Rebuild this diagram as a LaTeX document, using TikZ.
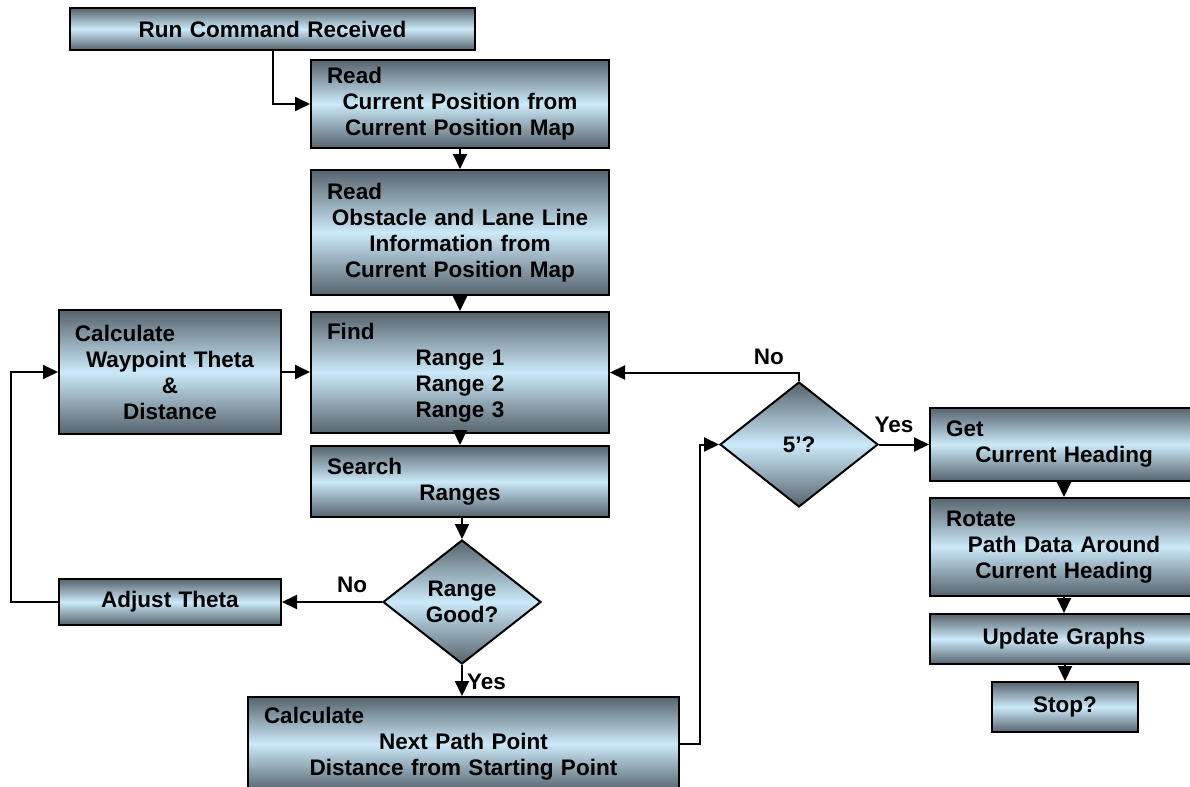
\documentclass[tikz,border=0pt]{standalone}
\usepackage{fontspec}
\setmainfont{Liberation Sans}
\usetikzlibrary{arrows.meta,shapes.geometric}
\definecolor{boxdark}{RGB}{86,99,109}
\definecolor{boxlight}{RGB}{203,233,249}
\newcommand{\boxhead}[1]{\makebox[\linewidth][l]{#1}}
\tikzset{
  every node/.style={font=\fontsize{11.25}{13}\selectfont\bfseries},
  flowbox/.style={rectangle,draw,line width=1pt,top color=boxdark,bottom color=boxdark,
    middle color=boxlight,inner xsep=8pt,inner ysep=0pt,align=center,text width=#1},
  choice/.style={diamond,draw,line width=1pt,top color=boxdark,bottom color=boxdark,
    middle color=boxlight,align=center,inner sep=0pt,minimum width=79pt,minimum height=62pt},
  flow/.style={-{Triangle[length=7.5pt,width=7pt]},line width=1pt}
}
\begin{document}
\begin{tikzpicture}[x=0.5pt,y=-0.5pt]
\useasboundingbox (0,0) rectangle (1190,787);
% main column
\node[flowbox=186.5pt,minimum height=21pt] (run) at (272.5,29) {Run Command Received};
\node[flowbox=133pt,minimum height=44pt] (read1) at (460,104)
  {\boxhead{Read}\\Current Position from\\Current Position Map};
\node[flowbox=133pt,minimum height=62.5pt] (read2) at (460,232.5)
  {\boxhead{Read}\\Obstacle and Lane Line\\Information from\\Current Position Map};
\node[flowbox=133pt,minimum height=60.5pt] (find) at (460,372.5)
  {\boxhead{Find}\\Range 1\\Range 2\\Range 3};
\node[flowbox=133pt,minimum height=35.5pt] (search) at (460,481.5)
  {\boxhead{Search}\\Ranges};
\node[choice] (rangeok) at (462,602) {Range\\Good?};
\node[flowbox=199.5pt,minimum height=47pt] (nextpt) at (463.5,744)
  {\boxhead{Calculate}\\Next Path Point\\Distance from Starting Point};
% left loop
\node[flowbox=95pt,minimum height=62pt] (calcwp) at (170,372)
  {\boxhead{Calculate}\\Waypoint Theta\\\&\\Distance};
\node[flowbox=95pt,minimum height=23pt] (adjust) at (170,602) {Adjust Theta};
% right column
\node[choice,minimum height=62.5pt] (fivep) at (799,444.5) {5’?};
\node[flowbox=118pt,minimum height=36.5pt] (gethead) at (1064,444.5)
  {\boxhead{Get}\\Current Heading};
\node[flowbox=118pt,minimum height=49pt] (rotate) at (1064,547)
  {\boxhead{Rotate}\\Path Data Around\\Current Heading};
\node[flowbox=118pt,minimum height=25pt] (update) at (1064,639) {Update Graphs};
\node[flowbox=57pt,minimum height=25pt] (stop) at (1065,707) {Stop?};

\draw[flow] (run.south) |- (read1.west);
\draw[flow] (read1.south) -- (read2.north);
\draw[flow] (read2.south) -- (find.north);
\draw[flow] (find.south) -- (search.north);
\draw[flow] (rangeok.north |- search.south) -- (rangeok.north);
\draw[flow] (rangeok.west) -- node[above=1pt,pos=0.3] {No} (rangeok.west -| adjust.east);
\draw[flow] (rangeok.south) -- node[right,inner sep=2pt,pos=0.55] {Yes} (rangeok.south |- nextpt.north);
\draw[flow] (adjust.west) -- ++(-47,0) |- (calcwp.west);
\draw[flow] (calcwp.east) -- (calcwp.east -| find.west);
\draw[flow] (nextpt.east) -- ++(20,0) |- (fivep.west);
\draw[flow] (fivep.north) |- node[above=0pt,pos=0.58] {No} (find.east);
\draw[flow] (fivep.east) -- node[above=2pt,pos=0.3] {Yes} (gethead.west);
\draw[flow] (gethead.south) -- (rotate.north);
\draw[flow] (rotate.south) -- (update.north);
\draw[flow] (update.south -| stop.north) -- (stop.north);
\end{tikzpicture}
\end{document}
